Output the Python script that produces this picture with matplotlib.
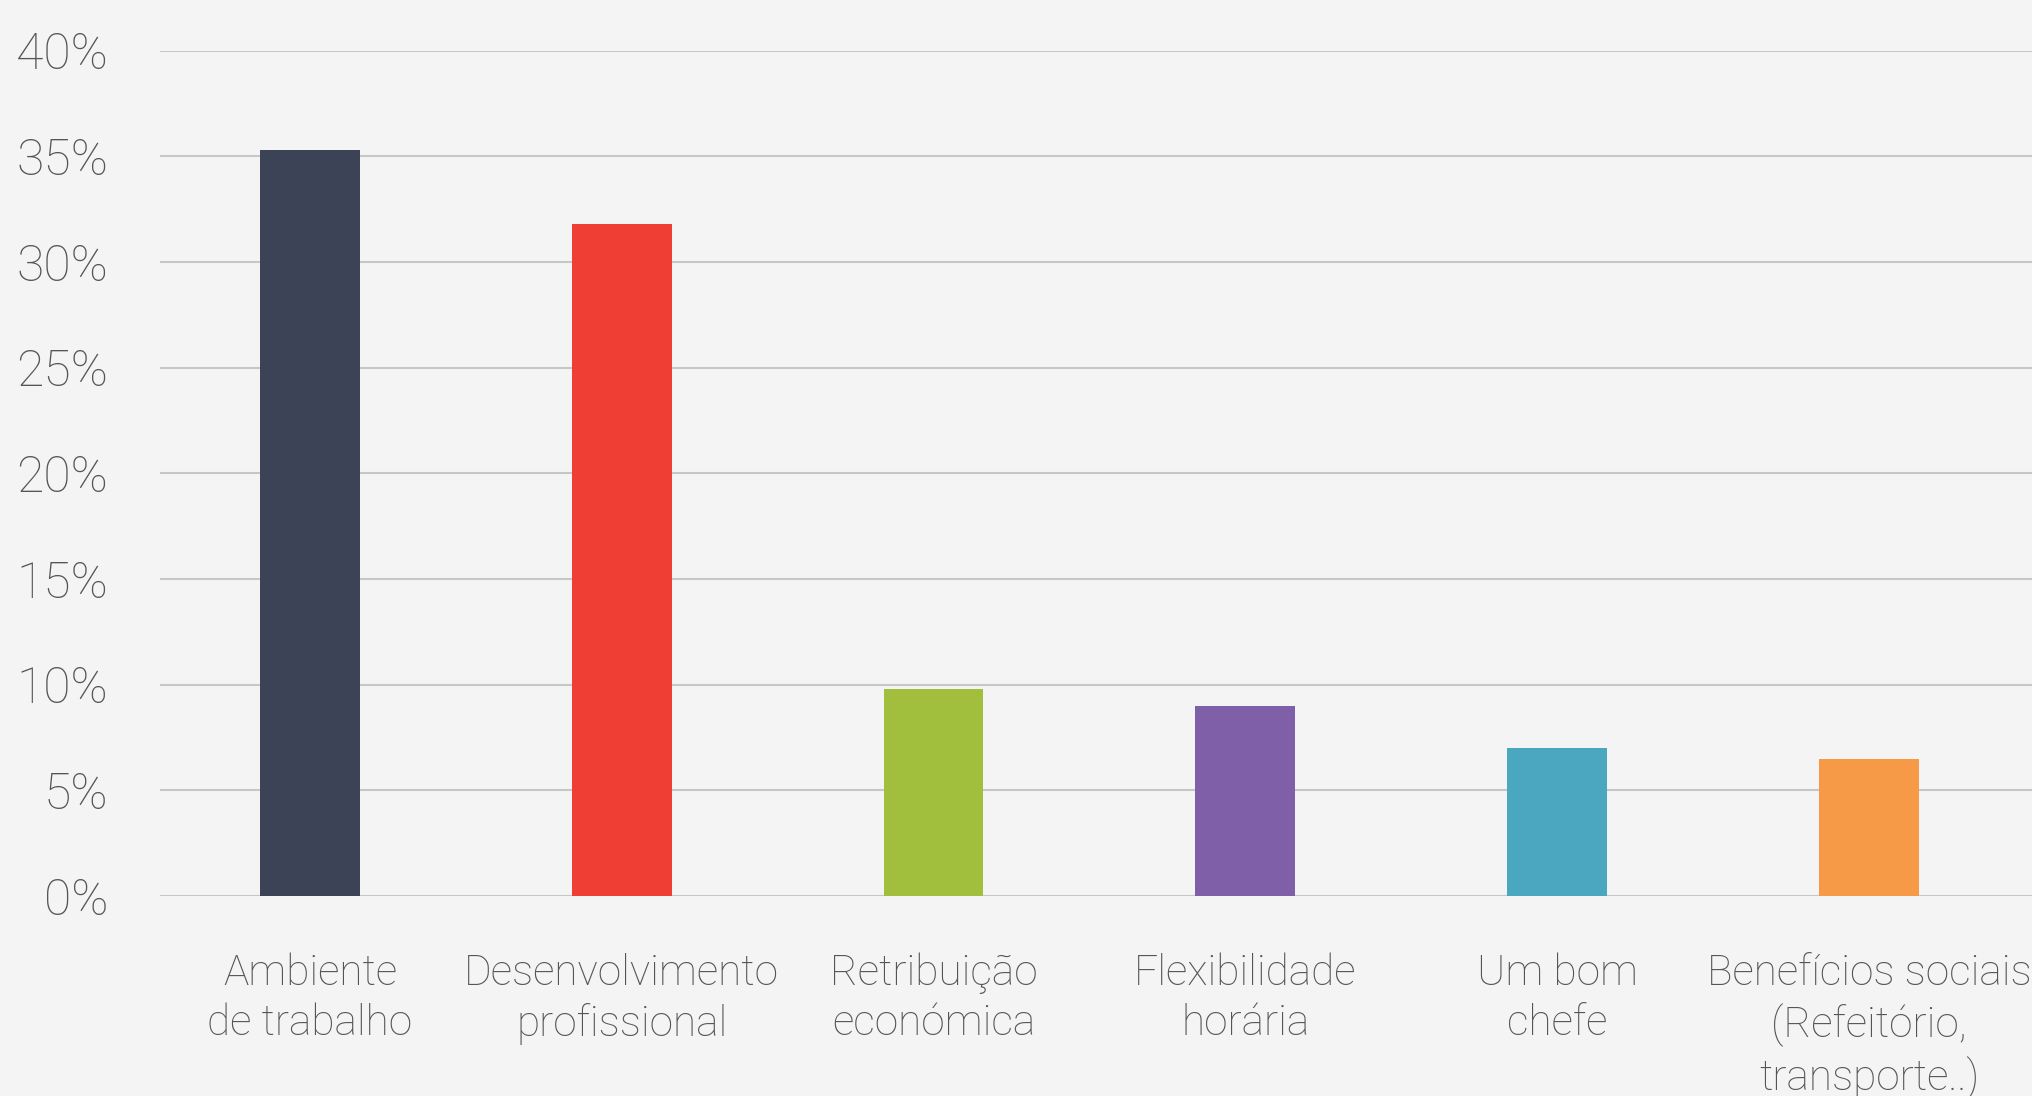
import matplotlib.pyplot as plt
from matplotlib.ticker import FuncFormatter

categories = [
    "Ambiente\nde trabalho",
    "Desenvolvimento\nprofissional",
    "Retribuição\neconómica",
    "Flexibilidade\nhorária",
    "Um bom\nchefe",
    "Benefícios sociais\n(Refeitório,\ntransporte..)",
]
values = [35.3, 31.8, 9.8, 9.0, 7.0, 6.5]
colors = ["#3d4356", "#ef3e33", "#a1bf3c", "#7f60a8", "#4ba7c0", "#f79a48"]
y_ticks = [0, 5, 10, 15, 20, 25, 30, 35, 40]

BG = "#f4f4f4"
TEXT = "#555555"

plt.rcParams["font.family"] = ["Roboto", "DejaVu Sans"]


def main() -> None:
    fig = plt.figure(figsize=(20.33, 10.96), dpi=100, facecolor=BG)
    ax = fig.add_axes([0.0785, 0.1825, 0.9215, 0.7713])
    ax.set_facecolor(BG)

    x = list(range(len(categories)))
    ax.bar(x, values, width=0.32, color=colors, zorder=3)

    ax.set_ylim(0, 40)
    ax.set_xlim(-0.482, 5.526)
    ax.set_yticks(y_ticks)
    ax.yaxis.set_major_formatter(FuncFormatter(lambda v, _: f"{v:.0f}%"))
    ax.set_xticks(x)
    ax.set_xticklabels(categories, linespacing=1.28)

    ax.grid(True, axis="y", color="#c6c6c6", linewidth=1.5, zorder=0)
    ax.set_axisbelow(True)
    for side in ax.spines.values():
        side.set_visible(False)

    ax.tick_params(axis="y", length=0, pad=37, labelsize=36, labelcolor=TEXT)
    ax.tick_params(axis="x", length=0, pad=41, labelsize=30.5, labelcolor=TEXT)
    for lbl in ax.get_yticklabels() + ax.get_xticklabels():
        lbl.set_fontweight("light")
    for lbl in ax.get_yticklabels():
        lbl.set_clip_on(False)

    fig.savefig("out.png", dpi=100, facecolor=BG)
    plt.close(fig)


if __name__ == "__main__":
    main()
